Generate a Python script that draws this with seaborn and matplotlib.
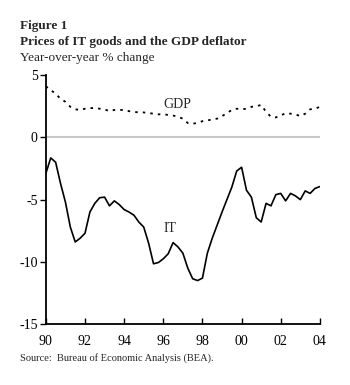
import numpy as np
import pandas as pd
import seaborn as sns
import matplotlib.pyplot as plt

# --- Data (quarterly, 1990Q1 - 2004Q1) ---
it_prices = [
    -2.9, -1.65, -2.0, -3.7,
    -5.2, -7.2, -8.4, -8.1,
    -7.7, -6.0, -5.3, -4.85,
    -4.8, -5.5, -5.1, -5.4,
    -5.8, -6.0, -6.25, -6.8,
    -7.2, -8.5, -10.15, -10.05,
    -9.75, -9.35, -8.45, -8.8,
    -9.3, -10.5, -11.35, -11.5,
    -11.3, -9.3, -8.1, -7.05,
    -6.0, -5.0, -4.0, -2.7,
    -2.4, -4.25, -4.8, -6.45,
    -6.8, -5.3, -5.5, -4.6,
    -4.5, -5.1, -4.5, -4.7,
    -5.0, -4.3, -4.5, -4.1,
    -3.95,
]
gdp_deflator = [
    4.1, 3.8, 3.5, 3.1,
    2.85, 2.45, 2.25, 2.2,
    2.3, 2.35, 2.35, 2.3,
    2.25, 2.1, 2.2, 2.2,
    2.2, 2.1, 2.05, 2.0,
    2.0, 1.95, 1.9, 1.85,
    1.85, 1.8, 1.75, 1.65,
    1.5, 1.15, 1.1, 1.15,
    1.3, 1.35, 1.45, 1.5,
    1.7, 1.95, 2.2, 2.3,
    2.25, 2.3, 2.45, 2.5,
    2.6, 2.05, 1.65, 1.6,
    1.75, 1.95, 1.9, 1.85,
    1.7, 1.9, 2.25, 2.3,
    2.45,
]
tick_years = [1990, 1992, 1994, 1996, 1998, 2000, 2002, 2004]
tick_labels = ["90", "92", "94", "96", "98", "00", "02", "04"]
y_ticks = [5, 0, -5, -10, -15]

quarters = 1990 + np.arange(len(it_prices)) * 0.25
df = pd.DataFrame({"date": quarters, "IT": it_prices, "GDP": gdp_deflator})

# --- Style ---
sns.set_style("ticks")
plt.rcParams['font.family'] = ['Liberation Serif', 'DejaVu Serif']

fig = plt.figure(figsize=(3.5, 3.85), dpi=100)
ax = fig.add_axes([0.131, 0.158, 0.783, 0.647])

ax.axhline(0, color="#c8c8c8", lw=1.5, zorder=1)
sns.lineplot(data=df, x="date", y="IT", ax=ax, color="black", lw=1.2, zorder=3)
sns.lineplot(data=df, x="date", y="GDP", ax=ax, color="black", lw=1.3,
             linestyle=(0, (1.4, 2.8)), zorder=3)

ax.text(1996.7, 2.65, "GDP", ha="center", va="center", fontsize=10)
ax.text(1996.35, -7.3, "IT", ha="center", va="center", fontsize=10)

ax.set_xlim(1990, 2004)
ax.set_ylim(-15, 5)
ax.set_xticks(tick_years)
ax.set_xticklabels(tick_labels, fontsize=10)
ax.set_yticks(y_ticks)
ax.set_yticklabels([str(v) for v in y_ticks], fontsize=10)
ax.tick_params(axis="x", direction="in", length=4, width=1, pad=8, colors="black")
ax.tick_params(axis="y", direction="out", length=4, width=1, pad=2, colors="black")
ax.set_xlabel("")
ax.set_ylabel("")
sns.despine(ax=ax)
for s in ["left", "bottom"]:
    ax.spines[s].set_linewidth(1.3)
    ax.spines[s].set_color("black")

fig.text(0.057, 0.948, "Figure 1", fontsize=9.5, fontweight="bold", va="top")
fig.text(0.057, 0.906, "Prices of IT goods and the GDP deflator", fontsize=9.5,
         fontweight="bold", va="top")
fig.text(0.057, 0.865, "Year-over-year % change", fontsize=9.5, va="top")
fig.text(0.057, 0.07, "Source:  Bureau of Economic Analysis (BEA).", fontsize=7.5,
         va="center")

fig.savefig("out.png", dpi=100)
